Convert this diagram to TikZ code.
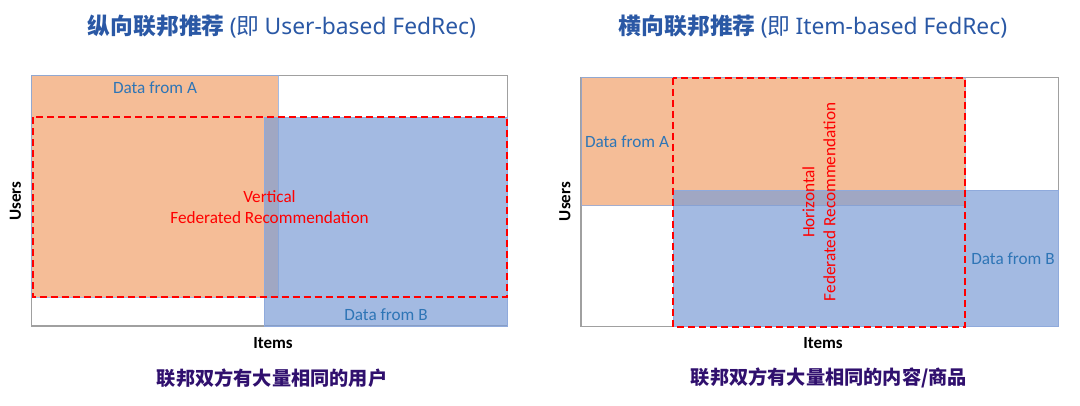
\documentclass[tikz,border=0pt]{standalone}
\usepackage{fontspec}
\setmainfont{Carlito}
\newfontfamily\cjk{Noto Sans CJK SC}
\newfontfamily\latin{Noto Sans}
\definecolor{titleblue}{RGB}{42,88,165}
\definecolor{datablue}{RGB}{46,117,182}
\definecolor{capviolet}{RGB}{48,16,110}
\definecolor{orangefill}{RGB}{237,125,49}
\definecolor{bluefill}{RGB}{125,158,215}
\definecolor{edgeblue}{RGB}{143,170,220}
\definecolor{fedred}{RGB}{255,0,0}
\definecolor{framegray}{RGB}{160,160,160}
\tikzset{
 frame/.style={draw=framegray,line width=1.3pt,fill=white},
 partA/.style={fill=orangefill,fill opacity=0.5,draw=edgeblue,draw opacity=0.8,line width=0.8pt},
 partB/.style={fill=bluefill,fill opacity=0.7,draw=edgeblue,line width=0.8pt},
 fedbox/.style={draw=fedred,line width=2pt,dash pattern=on 7pt off 4pt},
 datalabel/.style={text=datablue,font=\fontsize{17.2}{20}\selectfont},
 fedlabel/.style={text=fedred,align=center,font=\fontsize{17.2}{21}\selectfont},
 axislabel/.style={font=\fontsize{17}{20}\selectfont\bfseries},
 titlelabel/.style={text=titleblue,font=\fontsize{22.8}{26}\selectfont},
 caplabel/.style={text=capviolet,font=\cjk\bfseries\fontsize{19.2}{23}\selectfont},
}
\begin{document}
\begin{tikzpicture}[x=1pt,y=-1pt]
\useasboundingbox (0,0) rectangle (1080,405);
% left panel
\draw[frame] (31.5,75.5) rectangle (507.5,326);
\draw[partA] (31.5,75.5) rectangle (278,297);
\draw[partB] (264,117) rectangle (507.5,326);
\draw[fedbox] (32.5,117) rectangle (506.5,297);
\node[datalabel] (lA) at (155,88) {Data from A};
\node[datalabel] (lB) at (386,315) {Data from B};
\node[fedlabel] (lfed) at (269.5,207.5) {Vertical\\Federated Recommendation};
\node[axislabel,rotate=90] (lusers) at (15.5,201) {Users};
\node[axislabel] (litems) at (273,343) {Items};
\node[titlelabel] (ltitle) at (282,27) {{\cjk\bfseries 纵向联邦推荐} {\latin (}{\cjk 即} {\latin User-based FedRec)}};
\node[caplabel] (lcap) at (272,378) {联邦双方有大量相同的用户};
% right panel
\draw[frame] (581,77.5) rectangle (1058.5,326.5);
\draw[partA] (581,77.5) rectangle (965,205.5);
\draw[partB] (673,190) rectangle (1058.5,326.5);
\draw[fedbox] (673,77.5) rectangle (965,326.5);
\node[datalabel] (rA) at (627,142) {Data from A};
\node[datalabel] (rB) at (1013,259) {Data from B};
\node[fedlabel,rotate=90] (rfed) at (819,202) {Horizontal\\Federated Recommendation};
\node[axislabel,rotate=90] (rusers) at (565,201.5) {Users};
\node[axislabel] (ritems) at (823,343) {Items};
\node[titlelabel] (rtitle) at (813,27) {{\cjk\bfseries 横向联邦推荐} {\latin (}{\cjk 即} {\latin Item-based FedRec)}};
\node[caplabel] (rcap) at (829,378) {联邦双方有大量相同的内容/商品};
\end{tikzpicture}
\end{document}
